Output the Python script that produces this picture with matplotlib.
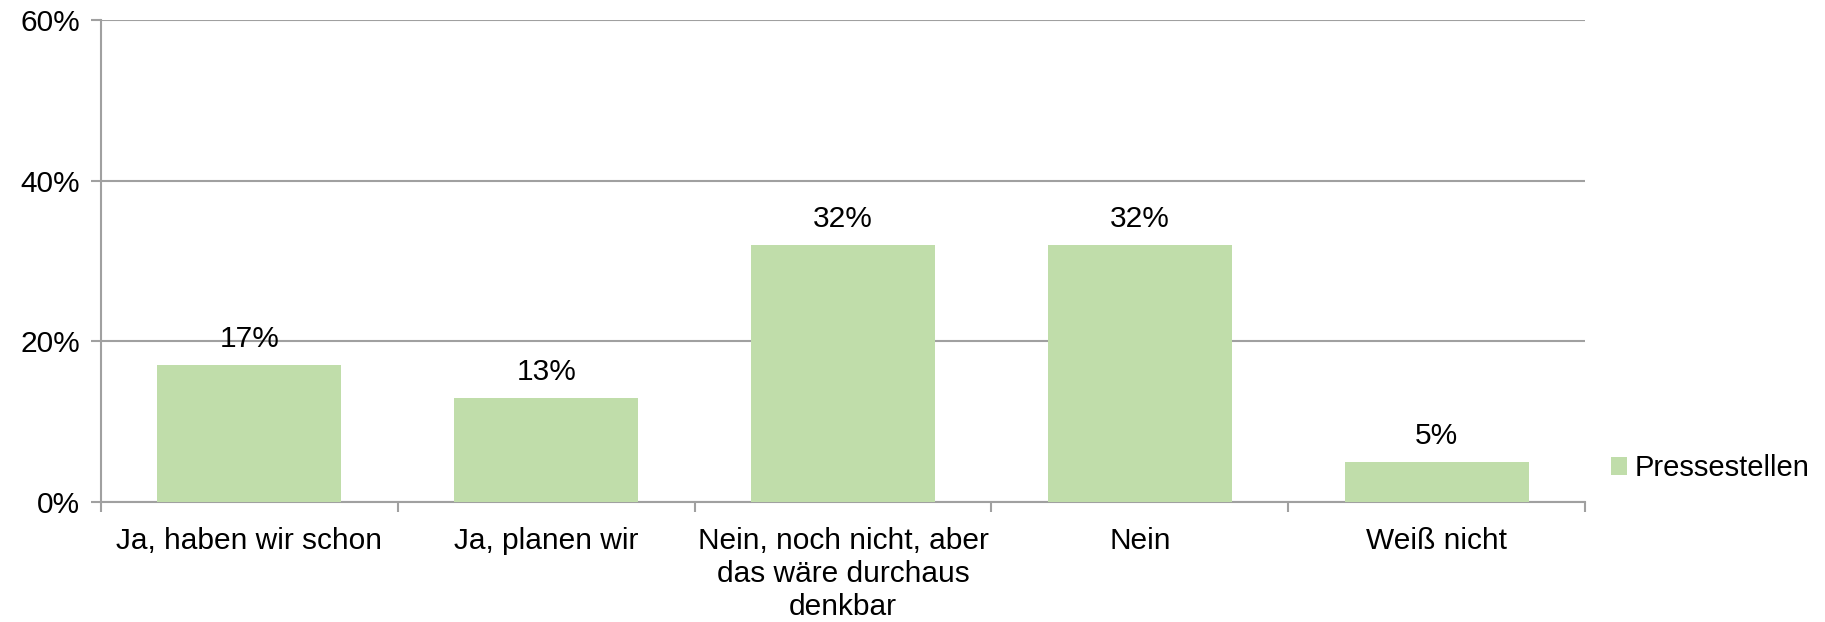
# Import Packages
import numpy as np
import matplotlib.pyplot as plt

plt.rcParams['font.family'] = ['Liberation Sans', 'DejaVu Sans']

# Data
categories = ["Ja, haben wir schon", "Ja, planen wir",
              "Nein, noch nicht, aber\ndas wäre durchaus\ndenkbar",
              "Nein", "Weiß nicht"]
values = [17, 13, 32, 32, 5]
series_name = "Pressestellen"
y_ticks = [0, 20, 40, 60]

grid_col = "#A0A0A0"
bar_col = "#C0DDAA"
fs = 21.5

fig = plt.figure(figsize=(18.25, 6.22), dpi=100)
ax = fig.add_axes([101 / 1825, 1 - 502 / 622, (1585 - 101) / 1825, (502 - 20) / 622])

x = np.arange(len(categories))
ax.bar(x, values, width=0.62, color=bar_col, label=series_name, zorder=3)

# value labels above bars
for xi, v in zip(x, values):
    ax.annotate(f"{v}%", (xi, v), xytext=(0, 12), textcoords="offset pixels",
                ha="center", va="bottom", fontsize=fs)

ax.set_xlim(-0.5, len(categories) - 0.5)
ax.set_ylim(0, 60)
ax.set_yticks(y_ticks)
ax.set_yticklabels([f"{t}%" for t in y_ticks], fontsize=fs)
ax.yaxis.grid(True, color=grid_col, linewidth=1.5, zorder=0)

# category labels between boundary ticks
ax.set_xticks(np.arange(len(categories) + 1) - 0.5)
ax.set_xticklabels([])
ax.set_xticks(x, minor=True)
ax.set_xticklabels(categories, minor=True, fontsize=fs, linespacing=1.22)
ax.tick_params(axis="x", which="minor", length=0, pad=18)
ax.tick_params(axis="x", which="major", length=7, width=1.5, color=grid_col, direction="out")
ax.tick_params(axis="y", length=7, width=1.5, color=grid_col, pad=8)

for s in ["top", "right"]:
    ax.spines[s].set_visible(False)
for s in ["left", "bottom"]:
    ax.spines[s].set_color(grid_col)
    ax.spines[s].set_linewidth(1.5)

ax.legend(loc="center left", bbox_to_anchor=(1.0, 0.07), frameon=False, fontsize=21,
          handlelength=0.55, handleheight=0.55, handletextpad=0.25)

fig.savefig("out.png", dpi=100)
